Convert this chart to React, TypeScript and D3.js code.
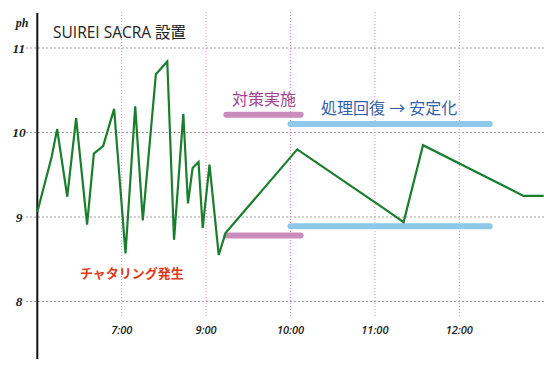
import * as d3 from 'd3';

// measured time (decimal hours) and pH
const times = [
  5.0, 5.34, 5.47, 5.71, 5.92, 6.18, 6.34, 6.56, 6.82, 7.09, 7.32, 7.5, 7.81, 8.08, 8.24, 8.46,
  8.57, 8.68, 8.82, 8.92, 9.04, 9.15, 9.23, 10.08, 11.11, 11.34, 11.57, 12.76, 13.0,
];
const ph = [
  9.06, 9.71, 10.04, 9.24, 10.17, 8.91, 9.75, 9.84, 10.28, 8.57, 10.31, 8.96, 10.69, 10.84, 8.73,
  10.22, 9.16, 9.58, 9.65, 8.87, 9.62, 8.55, 8.81, 9.8, 9.1, 8.94, 9.85, 9.25, 9.25,
];

// the hour gridlines are evenly spaced even though the hours are not
const gridHours = [5, 7, 9, 10, 11, 12, 13];
const tickHours = [7, 9, 10, 11, 12];
const tickLabels = ['7:00', '9:00', '10:00', '11:00', '12:00'];
const phTicks = [8, 9, 10, 11];

// highlight bars: [start hour, end hour, pH]
const purpleBars = [
  [9.24, 10.12, 10.21],
  [9.24, 10.12, 8.78],
];
const blueBars = [
  [10.0, 12.36, 10.1],
  [10.0, 12.36, 8.89],
];

const W = 544;
const H = 371;
const left = 37.3;
const step = 84.4;

const jp = '"Open Sans", "Noto Sans CJK JP", sans-serif';

export default function App() {
  const x = d3
    .scaleLinear()
    .domain(gridHours)
    .range(gridHours.map((_, i) => left + i * step));
  const y = d3.scaleLinear().domain([8, 11]).range([301.5, 48]);

  const line = d3
    .line<number>()
    .x((_, i) => x(times[i]))
    .y((d) => y(d));

  const bar = (b: number[], color: string, key: string) => (
    <line
      key={key}
      x1={x(b[0])}
      x2={x(b[1])}
      y1={y(b[2])}
      y2={y(b[2])}
      stroke={color}
      strokeWidth={6}
      strokeLinecap="round"
    />
  );

  return (
    <svg
      width={W}
      height={H}
      style={{ position: 'absolute', left: 0, top: 0, background: '#fff' }}
    >
      {/* horizontal gridlines */}
      {phTicks.map((t) => (
        <line
          key={'g' + t}
          x1={26}
          x2={W}
          y1={y(t)}
          y2={y(t)}
          stroke="#a0a0a0"
          strokeWidth={1}
          strokeDasharray="2,2"
        />
      ))}
      {/* hour gridlines */}
      {tickHours.map((h) => (
        <line
          key={'v' + h}
          x1={x(h)}
          x2={x(h)}
          y1={12}
          y2={318}
          stroke="#e58ab8"
          strokeWidth={1}
          strokeDasharray="1,2"
        />
      ))}
      {/* y labels */}
      {phTicks.map((t) => (
        <text
          key={'l' + t}
          x={19}
          y={y(t) + 4.5}
          textAnchor="middle"
          fontFamily='"Liberation Serif", serif'
          fontStyle="italic"
          fontWeight="bold"
          fontSize={13.5}
          fill="#222"
        >
          {t}
        </text>
      ))}
      <text
        x={22}
        y={26.5}
        textAnchor="middle"
        fontFamily='"Liberation Serif", serif'
        fontStyle="italic"
        fontWeight="bold"
        fontSize={12}
        fill="#222"
      >
        ph
      </text>
      {/* x labels */}
      {tickHours.map((h, i) => (
        <text
          key={'x' + h}
          x={x(h)}
          y={333.5}
          textAnchor="middle"
          fontFamily='"Open Sans", sans-serif'
          fontStyle="italic"
          fontWeight={600}
          fontSize={11}
          fill="#222"
        >
          {tickLabels[i]}
        </text>
      ))}
      {/* axis */}
      <line x1={left} x2={left} y1={13} y2={359} stroke="#111" strokeWidth={2} />

      {purpleBars.map((b, i) => bar(b, '#c98cbd', 'p' + i))}
      {blueBars.map((b, i) => bar(b, '#8ec8ea', 'b' + i))}

      <path d={line(ph) || ''} fill="none" stroke="#1b7d2e" strokeWidth={2.2} strokeLinejoin="miter" />

      <text x={53} y={37.5} fontFamily={jp} fontSize={15.5} fill="#222">
        SUIREI SACRA 設置
      </text>
      <text x={232} y={105} fontFamily={jp} fontSize={16} fill="#a3448f">
        対策実施
      </text>
      <text x={321} y={114} fontFamily={jp} fontSize={16} fill="#2f62a8">
        処理回復 → 安定化
      </text>
      <text x={80} y={278} fontFamily={jp} fontSize={13} fontWeight="bold" fill="#e2391d">
        チャタリング発生
      </text>
    </svg>
  );
}
